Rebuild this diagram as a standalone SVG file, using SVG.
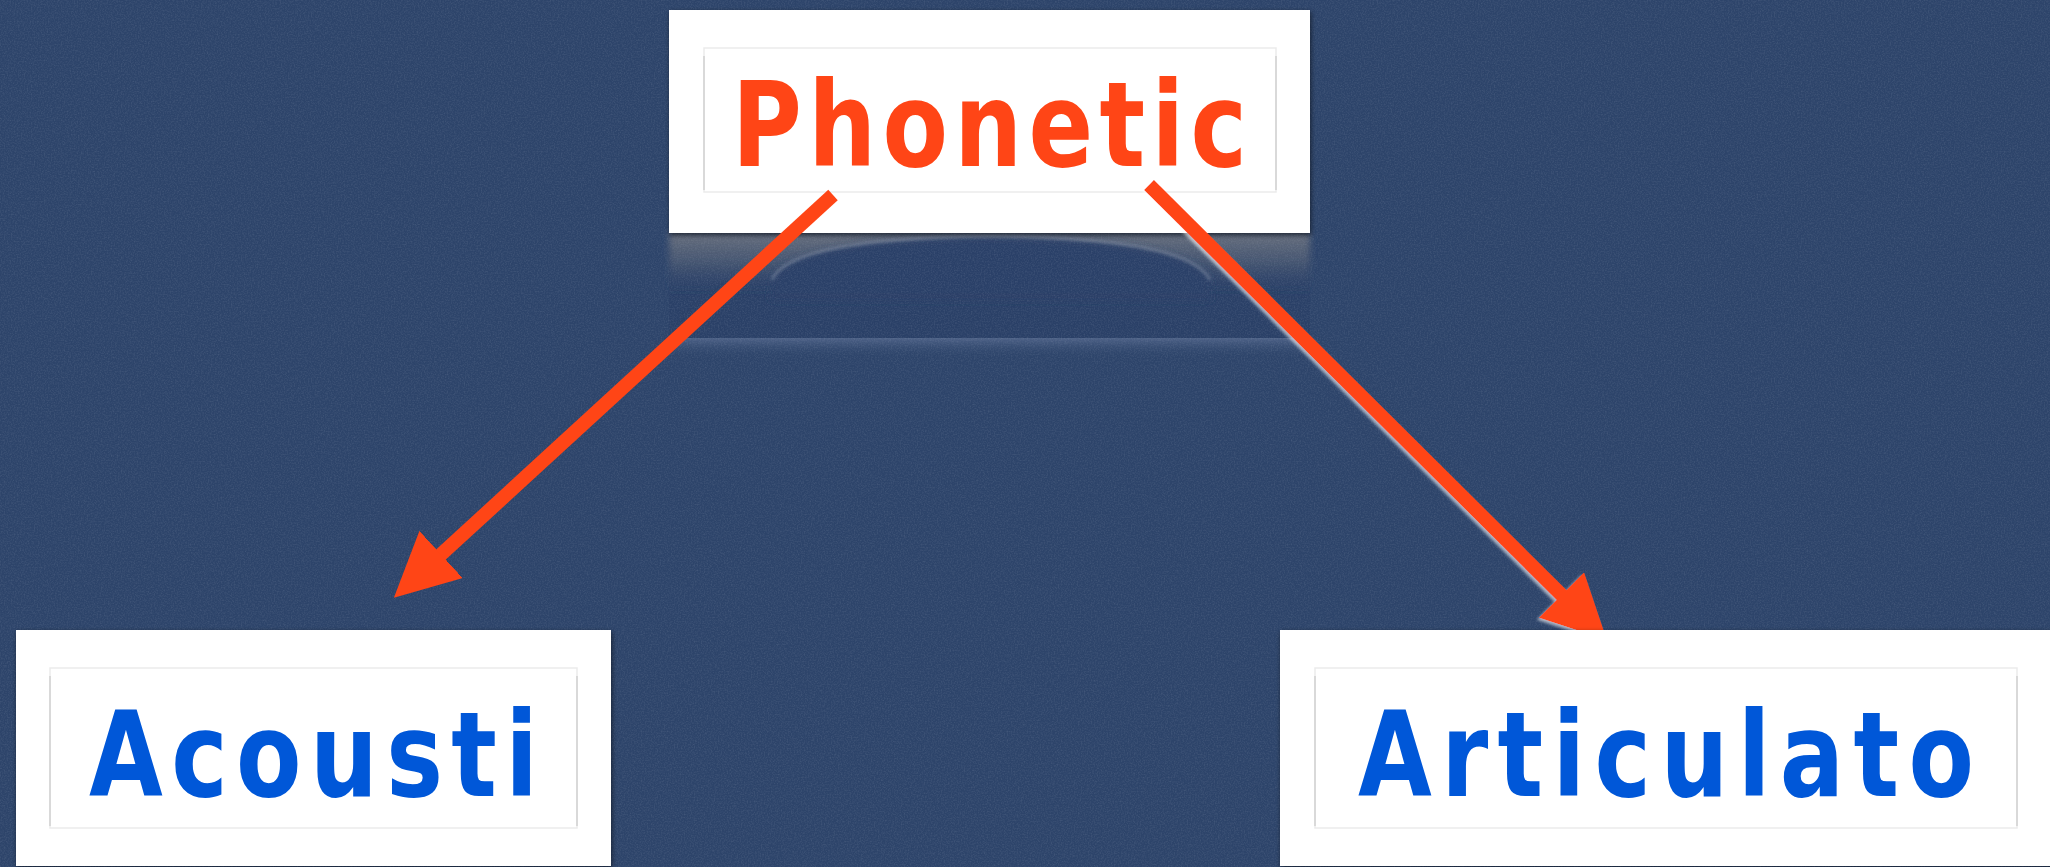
<svg xmlns="http://www.w3.org/2000/svg" width="2050" height="867" viewBox="0 0 2050 867">
  <defs>
    <style>
      .card { fill: #ffffff; filter: url(#cardShadow); }
      .frame { fill: none; stroke: #ebebeb; stroke-width: 1.5; }
      .frameSide { stroke: #d2d2d2; stroke-width: 1.5; }
      .label { font-family: "DejaVu Sans Condensed", "Liberation Sans", sans-serif; font-weight: bold; font-size: 106px; }
      .root { fill: #ff4516; }
      .leaf { fill: #0057d8; }
      .link { fill: none; stroke: #ff4516; stroke-width: 14; marker-end: url(#head); }
    </style>
    <filter id="cardShadow" x="-5%" y="-5%" width="110%" height="115%">
      <feDropShadow dx="1" dy="2" stdDeviation="2.5" flood-color="#000" flood-opacity="0.55"/>
    </filter>
    <filter id="halo" x="-10%" y="-10%" width="120%" height="120%">
      <feDropShadow dx="-2" dy="2" stdDeviation="1.5" flood-color="#ffffff" flood-opacity="0.6"/>
    </filter>
    <filter id="soft" x="-20%" y="-50%" width="140%" height="200%">
      <feGaussianBlur stdDeviation="3"/>
    </filter>
    <filter id="soft2" x="-20%" y="-200%" width="140%" height="500%">
      <feGaussianBlur stdDeviation="1.5"/>
    </filter>
    <filter id="grain" x="0" y="0" width="100%" height="100%">
      <feTurbulence type="fractalNoise" baseFrequency="0.7" numOctaves="2" seed="4" result="n"/>
      <feColorMatrix in="n" type="matrix" values="0 0 0 0 0.5  0 0 0 0 0.55  0 0 0 0 0.65  0 0 0 0.9 -0.35"/>
    </filter>
    <linearGradient id="haze" x1="0" y1="0" x2="0" y2="1">
      <stop offset="0" stop-color="#6a717e" stop-opacity="0.95"/>
      <stop offset="0.45" stop-color="#5b6679" stop-opacity="0.6"/>
      <stop offset="1" stop-color="#2c4269" stop-opacity="0"/>
    </linearGradient>
    <linearGradient id="band" x1="0" y1="0" x2="0" y2="1">
      <stop offset="0" stop-color="#51658a" stop-opacity="0.9"/>
      <stop offset="1" stop-color="#2e456b" stop-opacity="0"/>
    </linearGradient>
    <marker id="head" markerUnits="userSpaceOnUse" markerWidth="64" markerHeight="64" viewBox="0 0 64 64" refX="4" refY="32" orient="auto">
      <path d="M0,0 L64,32 L0,64 Z" fill="#ff4516"/>
    </marker>
  </defs>

  <!-- backdrop -->
  <rect x="0" y="0" width="2050" height="867" fill="#2d446a"/>

  <!-- soft reflection below the top card -->
  <g id="reflection">
    <rect x="669" y="233" width="641" height="105" fill="#2a4067"/>
    <rect x="669" y="233" width="641" height="62" fill="url(#haze)" filter="url(#soft)"/>
    <path d="M770,300 L772,280 Q790,238 990,236 Q1190,238 1210,280 L1212,300 Z" fill="#2a4067" filter="url(#soft)"/>
    <path d="M772,280 Q790,238 990,236 Q1190,238 1210,280" fill="none" stroke="#ffffff" stroke-opacity="0.22" stroke-width="3" filter="url(#soft2)"/>
    <rect x="669" y="338" width="641" height="20" fill="url(#band)"/>
  </g>

  <rect x="0" y="0" width="2050" height="867" filter="url(#grain)" opacity="0.3"/>

  <g id="node-phonetic">
    <rect class="card" x="669" y="10" width="641" height="223"/>
    <rect class="frame" x="704" y="48" width="572" height="144"/>
    <line class="frameSide" x1="704" y1="56" x2="704" y2="190"/>
    <line class="frameSide" x1="1276" y1="56" x2="1276" y2="190"/>
    <text class="label root" transform="translate(732,166) scale(1,1.11)" textLength="515" lengthAdjust="spacing">Phonetic</text>
  </g>

  <g id="connectors">
    <path class="link" d="M833,195 L438.1,557.2"/>
    <path class="link" d="M1149,185 L1564.3,597.8" filter="url(#halo)"/>
  </g>

  <g id="node-acousti">
    <rect class="card" x="16" y="630" width="595" height="236"/>
    <rect class="frame" x="50" y="668" width="527" height="160"/>
    <line class="frameSide" x1="50" y1="676" x2="50" y2="826"/>
    <line class="frameSide" x1="577" y1="676" x2="577" y2="826"/>
    <text class="label leaf" transform="translate(89,796) scale(1,1.11)" textLength="449" lengthAdjust="spacing">Acousti</text>
  </g>

  <g id="node-articulato">
    <rect class="card" x="1280" y="630" width="780" height="236"/>
    <rect class="frame" x="1315" y="668" width="702" height="160"/>
    <line class="frameSide" x1="1315" y1="676" x2="1315" y2="826"/>
    <line class="frameSide" x1="2017" y1="676" x2="2017" y2="826"/>
    <text class="label leaf" transform="translate(1358,796) scale(1,1.11)" textLength="616" lengthAdjust="spacing">Articulato</text>
  </g>
</svg>
